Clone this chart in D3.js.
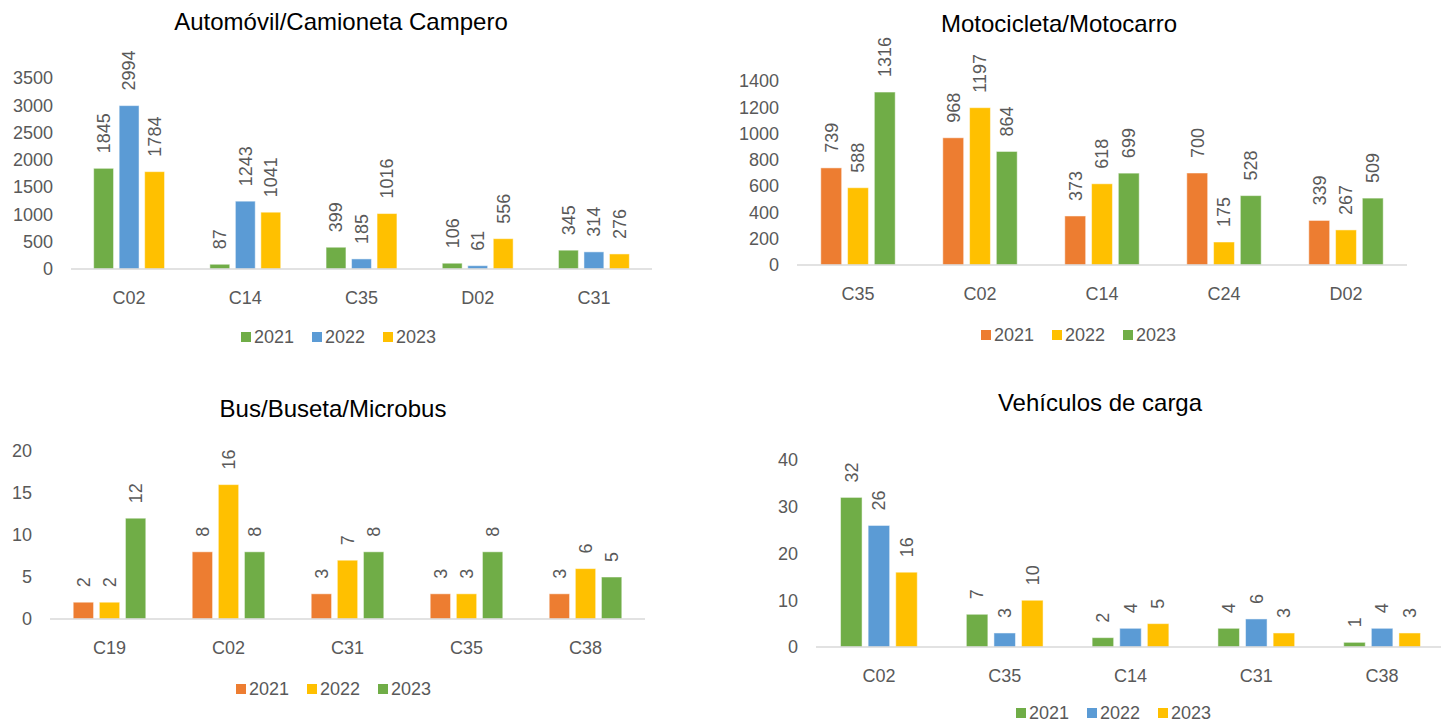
<!DOCTYPE html>
<html>
<head>
<meta charset="utf-8">
<script src="https://cdn.jsdelivr.net/npm/d3@7"></script>
<style>
  body { margin: 0; background: #fff; }
  svg { font-family: "Liberation Sans", Arial, sans-serif; }
  .tick text { fill: #595959; font-size: 18px; }
</style>
</head>
<body>
<svg id="chart" width="1441" height="725"></svg>
<script>
// ---- data ----
const years = ["2021", "2022", "2023"];

const autoCats = ["C02", "C14", "C35", "D02", "C31"];
const auto2021 = [1845, 87, 399, 106, 345];
const auto2022 = [2994, 1243, 185, 61, 314];
const auto2023 = [1784, 1041, 1016, 556, 276];

const motoCats = ["C35", "C02", "C14", "C24", "D02"];
const moto2021 = [739, 968, 373, 700, 339];
const moto2022 = [588, 1197, 618, 175, 267];
const moto2023 = [1316, 864, 699, 528, 509];

const busCats = ["C19", "C02", "C31", "C35", "C38"];
const bus2021 = [2, 8, 3, 3, 3];
const bus2022 = [2, 16, 7, 3, 6];
const bus2023 = [12, 8, 8, 8, 5];

const cargaCats = ["C02", "C35", "C14", "C31", "C38"];
const carga2021 = [32, 7, 2, 4, 1];
const carga2022 = [26, 3, 4, 6, 4];
const carga2023 = [16, 10, 5, 3, 3];

const green = "#70AD47", blue = "#5B9BD5", yellow = "#FFC000", orange = "#ED7D31";

const charts = [
  { title: "Automóvil/Camioneta Campero", cats: autoCats, series: [auto2021, auto2022, auto2023],
    colors: [green, blue, yellow], max: 3500, step: 500,
    x0: 71, x1: 652, top: 78, base: 269, titleX: 341, titleY: 22, legX: 338, legY: 337 },
  { title: "Motocicleta/Motocarro", cats: motoCats, series: [moto2021, moto2022, moto2023],
    colors: [orange, yellow, green], max: 1400, step: 200,
    x0: 797, x1: 1407, top: 81, base: 265, titleX: 1059, titleY: 24, legX: 1078, legY: 335 },
  { title: "Bus/Buseta/Microbus", cats: busCats, series: [bus2021, bus2022, bus2023],
    colors: [orange, yellow, green], max: 20, step: 5,
    x0: 50, x1: 645, top: 451, base: 619, titleX: 333, titleY: 409, legX: 333, legY: 689 },
  { title: "Vehículos de carga", cats: cargaCats, series: [carga2021, carga2022, carga2023],
    colors: [green, blue, yellow], max: 40, step: 10,
    x0: 816, x1: 1445, top: 460, base: 647, titleX: 1100, titleY: 403, legX: 1113, legY: 713 }
];

const svg = d3.select("#chart");

charts.forEach(c => {
  const g = svg.append("g");

  const x = d3.scaleBand().domain(c.cats).range([c.x0, c.x1])
    .paddingInner(0.39).paddingOuter(0.195);
  const xs = d3.scaleBand().domain(years).range([0, x.bandwidth()]).paddingInner(0.22);
  const y = d3.scaleLinear().domain([0, c.max]).range([c.base, c.top]);

  // y axis (labels only)
  const yAxis = g.append("g")
    .attr("transform", `translate(${c.x0},0)`)
    .call(d3.axisLeft(y).tickValues(d3.range(0, c.max + 1, c.step))
      .tickFormat(d3.format("d")).tickSize(0).tickPadding(18));
  yAxis.select(".domain").remove();

  // bars
  const rows = [];
  c.cats.forEach((cat, i) => {
    years.forEach((yr, j) => rows.push({ cat: cat, yr: yr, v: c.series[j][i], color: c.colors[j] }));
  });

  g.selectAll(".bar").data(rows).join("rect").attr("class", "bar")
    .attr("x", d => x(d.cat) + xs(d.yr))
    .attr("y", d => y(d.v))
    .attr("width", xs.bandwidth())
    .attr("height", d => c.base - y(d.v))
    .attr("fill", d => d.color)
    .attr("stroke", "#fff")
    .attr("stroke-opacity", 0.5)
    .attr("stroke-width", 1);

  // x axis
  const xAxis = g.append("g")
    .attr("transform", `translate(0,${c.base})`)
    .call(d3.axisBottom(x).tickSize(0).tickPadding(22));
  xAxis.select(".domain").attr("stroke", "#D9D9D9").attr("stroke-width", 1.5)
    .attr("d", `M${c.x0},0H${c.x1}`);

  // data labels, rotated
  g.selectAll(".lbl").data(rows).join("text").attr("class", "lbl")
    .attr("transform", d => `translate(${x(d.cat) + xs(d.yr) + xs.bandwidth() / 2},${y(d.v) - 15}) rotate(-90)`)
    .attr("dy", "0.35em")
    .attr("text-anchor", "start")
    .attr("fill", "#595959")
    .style("font-size", "18px")
    .text(d => d.v);

  // title
  g.append("text")
    .attr("x", c.titleX).attr("y", c.titleY)
    .attr("dy", "0.35em")
    .attr("text-anchor", "middle")
    .attr("fill", "#000")
    .style("font-size", "24px")
    .text(c.title);

  // legend
  const itemW = 71;
  const totalW = itemW * 2 + 52;
  const leg = g.append("g").attr("transform", `translate(${c.legX - totalW / 2},${c.legY})`);
  years.forEach((yr, j) => {
    const it = leg.append("g").attr("transform", `translate(${j * itemW},0)`);
    it.append("rect").attr("x", 0).attr("y", -5).attr("width", 10).attr("height", 10).attr("fill", c.colors[j]);
    it.append("text").attr("x", 13).attr("dy", "0.35em").attr("fill", "#595959")
      .style("font-size", "18px").text(yr);
  });
});
</script>
</body>
</html>
